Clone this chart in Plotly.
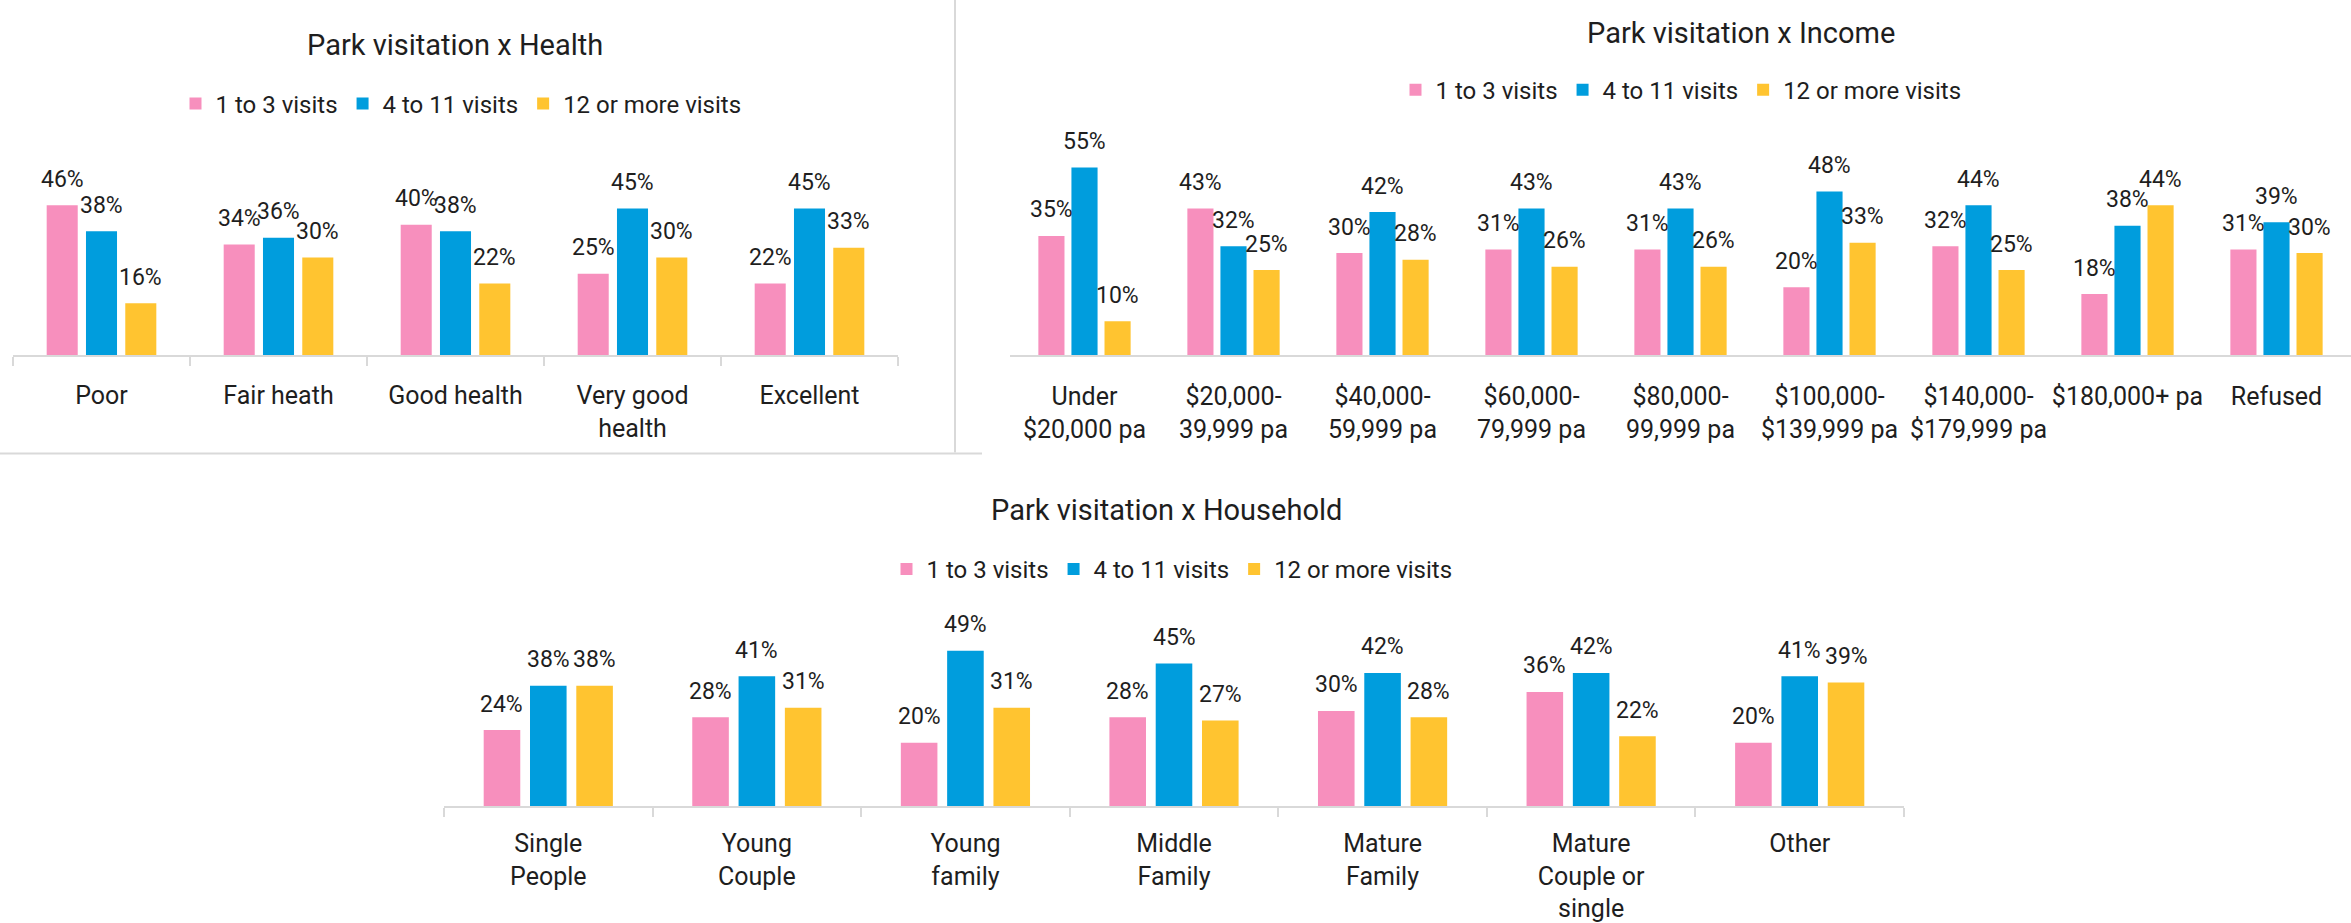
import plotly.graph_objects as go

series_names = ["1 to 3 visits", "4 to 11 visits", "12 or more visits"]
colors = ["#F78FBD", "#009DDD", "#FFC430"]

health_cats = ["Poor", "Fair heath", "Good health", "Very good<br>health", "Excellent"]
health_13 = [46, 34, 40, 25, 22]
health_411 = [38, 36, 38, 45, 45]
health_12 = [16, 30, 22, 30, 33]

income_cats = ["Under<br>$20,000 pa", "$20,000-<br>39,999 pa", "$40,000-<br>59,999 pa",
               "$60,000-<br>79,999 pa", "$80,000-<br>99,999 pa", "$100,000-<br>$139,999 pa",
               "$140,000-<br>$179,999 pa", "$180,000+ pa", "Refused"]
income_13 = [35, 43, 30, 31, 31, 20, 32, 18, 31]
income_411 = [55, 32, 42, 43, 43, 48, 44, 38, 39]
income_12 = [10, 25, 28, 26, 26, 33, 25, 44, 30]

house_cats = ["Single<br>People", "Young<br>Couple", "Young<br>family", "Middle<br>Family",
              "Mature<br>Family", "Mature<br>Couple or<br>single", "Other"]
house_13 = [24, 28, 20, 28, 30, 36, 20]
house_411 = [38, 41, 49, 45, 42, 42, 41]
house_12 = [38, 31, 31, 27, 28, 22, 39]

W, H = 2351, 923
FONT = "Roboto, 'Noto Sans', sans-serif"
TXT = "#1e1e1e"
GRID = "#D9D9D9"
BARGAP = 0.334
SLOT = (1 - BARGAP) / 3

fig = go.Figure()

charts = [
    dict(cats=health_cats, vals=[health_13, health_411, health_12], ax="", legend="legend",
         title="Park visitation x Health", tx=455, ty=45),
    dict(cats=income_cats, vals=[income_13, income_411, income_12], ax="2", legend="legend2",
         title="Park visitation x Income", tx=1741, ty=33),
    dict(cats=house_cats, vals=[house_13, house_411, house_12], ax="3", legend="legend3",
         title="Park visitation x Household", tx=1166, ty=515),
]

annotations = []
for ch in charts:
    for k, (name, col, vals) in enumerate(zip(series_names, colors, ch["vals"])):
        fig.add_trace(go.Bar(
            x=ch["cats"], y=vals, name=name, marker=dict(color=col, line=dict(width=0)),
            xaxis="x" + ch["ax"], yaxis="y" + ch["ax"], legend=ch["legend"],
            hoverinfo="skip",
        ))
        for i, v in enumerate(vals):
            annotations.append(dict(
                x=i + (k - 1) * SLOT, y=v, xref="x" + ch["ax"], yref="y" + ch["ax"],
                text=f"{v}%", showarrow=False, yanchor="middle", yshift=26,
                font=dict(family=FONT, size=23, color=TXT),
            ))
    annotations.append(dict(
        x=ch["tx"] / W, y=1 - ch["ty"] / H, xref="paper", yref="paper",
        text=ch["title"], showarrow=False, xanchor="center", yanchor="middle",
        font=dict(family=FONT, size=29, color=TXT),
    ))

xcommon = dict(type="category", showgrid=False, zeroline=False, showline=True,
               linecolor=GRID, linewidth=2, tickfont=dict(family=FONT, size=25, color=TXT),
               fixedrange=True)
ycommon = dict(visible=False, showgrid=False, zeroline=False, fixedrange=True)

legend_common = dict(orientation="h", xanchor="center", yanchor="middle",
                     font=dict(family=FONT, size=24, color=TXT), bgcolor="rgba(0,0,0,0)",
                     itemclick=False, itemdoubleclick=False)

fig.update_layout(
    width=W, height=H,
    margin=dict(l=0, r=0, t=0, b=0),
    paper_bgcolor="white", plot_bgcolor="white",
    barmode="group", bargap=BARGAP, bargroupgap=0.21,
    xaxis=dict(domain=[13 / W, 898 / W], anchor="y", ticks="outside", tickson="boundaries",
               ticklen=9, tickcolor=GRID, tickwidth=2, ticklabelstandoff=17, **xcommon),
    yaxis=dict(domain=[1 - 359 / H, 1 - 150 / H], range=[0, 209 / 3.3], anchor="x", **ycommon),
    xaxis2=dict(domain=[1010 / W, 1.0], anchor="y2", ticks="", ticklabelstandoff=18, **xcommon),
    yaxis2=dict(domain=[1 - 359 / H, 1 - 150 / H], range=[0, 209 / 3.45], anchor="x2", **ycommon),
    xaxis3=dict(domain=[444 / W, 1904 / W], anchor="y3", ticks="outside", tickson="boundaries",
                ticklen=9, tickcolor=GRID, tickwidth=2, ticklabelstandoff=14, **xcommon),
    yaxis3=dict(domain=[1 - 814 / H, 1 - 620 / H], range=[0, 194 / 3.2], anchor="x3", **ycommon),
    legend=dict(x=461 / W, y=1 - 105 / H, **legend_common),
    legend2=dict(x=1681 / W, y=1 - 91 / H, **legend_common),
    legend3=dict(x=1172 / W, y=1 - 575 / H, **legend_common),
    annotations=annotations,
    shapes=[
        dict(type="line", xref="paper", yref="paper", x0=955 / W, x1=955 / W, y0=1 - 457 / H, y1=1,
             line=dict(color=GRID, width=2)),
        dict(type="line", xref="paper", yref="paper", x0=0, x1=982 / W, y0=1 - 458 / H, y1=1 - 458 / H,
             line=dict(color=GRID, width=2)),
    ],
    showlegend=True,
)

fig.write_html("out.html", config={"displayModeBar": False},
               post_script="document.body.style.margin='0';")
